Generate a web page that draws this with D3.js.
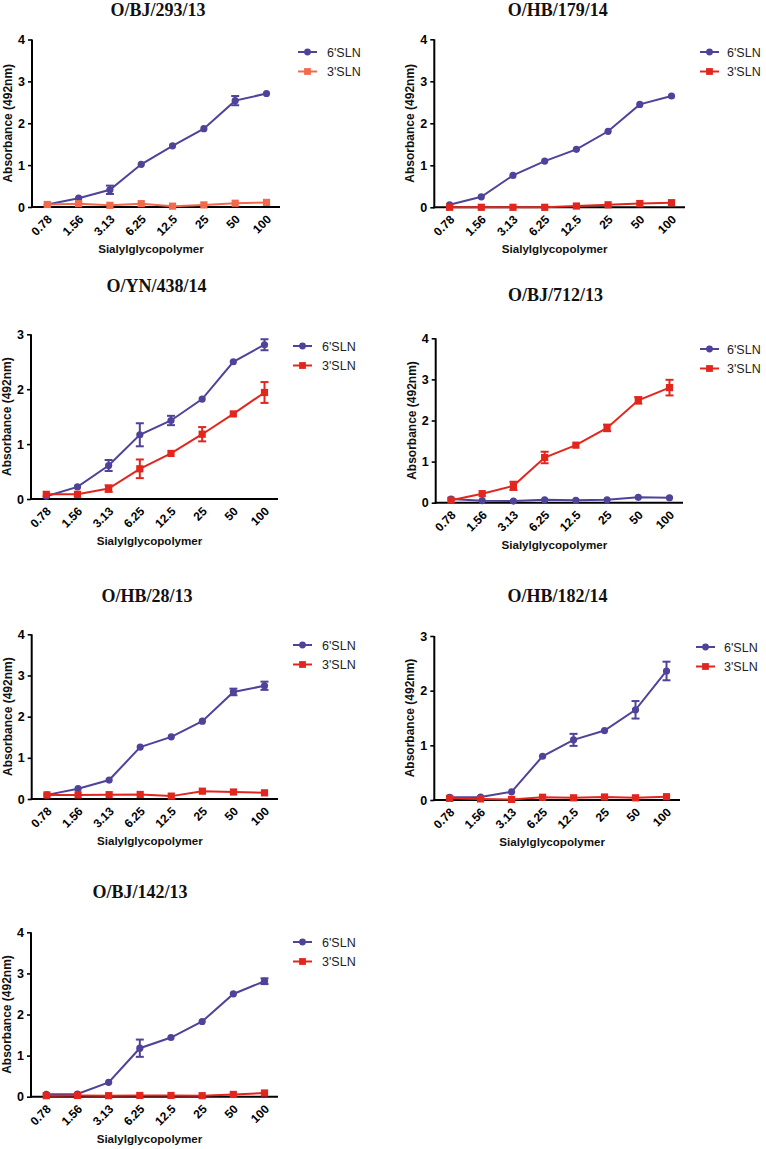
<!DOCTYPE html>
<html><head><meta charset="utf-8">
<script src="https://cdn.jsdelivr.net/npm/d3@7"></script>
<style>body{margin:0;background:#fff}svg{display:block}</style>
</head><body>
<svg id="c" width="766" height="1149"></svg>
<script>
// ---- data ----
const concentrations = ["0.78","1.56","3.13","6.25","12.5","25","50","100"];
const seriesNames = ["6'SLN","3'SLN"];
const titles = ["O/BJ/293/13","O/HB/179/14","O/YN/438/14","O/BJ/712/13","O/HB/28/13","O/HB/182/14","O/BJ/142/13"];
const yMaxes = [4,4,3,4,4,3,4];

const bj293_6 = [0.06,0.21,0.41,1.02,1.46,1.87,2.54,2.71];
const bj293_6err = [0,0,0.10,0,0,0,0.11,0];
const bj293_3 = [0.06,0.08,0.04,0.08,0.02,0.05,0.09,0.11];
const bj293_3err = [0,0,0,0,0,0,0,0];

const hb179_6 = [0.06,0.25,0.76,1.10,1.38,1.81,2.45,2.65];
const hb179_6err = [0,0,0,0,0,0,0,0];
const hb179_3 = [0.0,0.0,0.0,0.0,0.03,0.06,0.09,0.11];
const hb179_3err = [0,0,0,0,0,0,0,0];

const yn438_6 = [0.05,0.22,0.61,1.17,1.43,1.82,2.50,2.81];
const yn438_6err = [0,0,0.10,0.21,0.085,0,0,0.10];
const yn438_3 = [0.085,0.085,0.19,0.55,0.83,1.18,1.55,1.94];
const yn438_3err = [0,0,0.06,0.17,0,0.13,0,0.19];

const bj712_6 = [0.09,0.05,0.04,0.07,0.06,0.07,0.13,0.12];
const bj712_6err = [0,0,0,0,0,0,0,0];
const bj712_3 = [0.06,0.22,0.41,1.10,1.40,1.82,2.49,2.80];
const bj712_3err = [0,0,0.10,0.14,0,0.08,0.08,0.19];

const hb28_6 = [0.10,0.25,0.46,1.26,1.51,1.89,2.60,2.75];
const hb28_6err = [0,0,0,0,0,0,0.08,0.10];
const hb28_3 = [0.10,0.10,0.105,0.11,0.07,0.19,0.17,0.15];
const hb28_3err = [0,0,0,0,0,0,0,0];

const hb182_6 = [0.05,0.055,0.15,0.80,1.10,1.27,1.65,2.36];
const hb182_6err = [0,0,0,0,0.11,0,0.16,0.17];
const hb182_3 = [0.03,0.02,0.01,0.05,0.04,0.055,0.04,0.06];
const hb182_3err = [0,0,0,0,0,0,0,0];

const bj142_6 = [0.06,0.065,0.35,1.18,1.44,1.83,2.50,2.81];
const bj142_6err = [0,0,0,0.21,0,0,0,0.07];
const bj142_3 = [0.025,0.03,0.025,0.03,0.03,0.025,0.055,0.09];
const bj142_3err = [0,0,0,0,0,0,0,0];

const values6 = [bj293_6,hb179_6,yn438_6,bj712_6,hb28_6,hb182_6,bj142_6];
const errs6 = [bj293_6err,hb179_6err,yn438_6err,bj712_6err,hb28_6err,hb182_6err,bj142_6err];
const values3 = [bj293_3,hb179_3,yn438_3,bj712_3,hb28_3,hb182_3,bj142_3];
const errs3 = [bj293_3err,hb179_3err,yn438_3err,bj712_3err,hb28_3err,hb182_3err,bj142_3err];

// ---- layout (positions only) ----
const frames = [
 {x0:32, x1:280, yT:39.5, yB:207, tx:158, ty:15.5, lx:298, lt:327, ly:52, c3:"#F26A4B"},
 {x0:434.3, x1:685, yT:39.3, yB:207.3, tx:557.7, ty:15.5, lx:700, lt:727, ly:52, c3:"#E2261E"},
 {x0:31, x1:278, yT:334.3, yB:499, tx:156.5, ty:291.5, lx:293, lt:322, ly:346, c3:"#E2261E"},
 {x0:435.7, x1:683, yT:338.3, yB:502.7, tx:555.5, ty:301, lx:700, lt:727, ly:349, c3:"#E2261E"},
 {x0:31.7, x1:278, yT:634.3, yB:799, tx:147, ty:601.5, lx:293, lt:322, ly:645, c3:"#E2261E"},
 {x0:434.3, x1:680, yT:636, yB:800, tx:557.5, ty:601.5, lx:696, lt:724, ly:647, c3:"#E2261E"},
 {x0:31, x1:278, yT:932.3, yB:1096.7, tx:140, ty:898, lx:293, lt:322, ly:942, c3:"#E2261E"}
];
const purple = "#4E4399";

const svg = d3.select("#c");

frames.forEach((f,i)=>{
  const g = svg.append("g");
  const x = d3.scalePoint().domain(concentrations).range([f.x0+15.3, f.x1-13.5]);
  const y = d3.scaleLinear().domain([0,yMaxes[i]]).range([f.yB, f.yT]);

  // title
  g.append("text").attr("x",f.tx).attr("y",f.ty).attr("text-anchor","middle")
   .attr("font-family","'Liberation Serif','Times New Roman',serif").attr("font-weight","bold")
   .attr("font-size",18).attr("fill","#111").text(titles[i]);

  // y axis
  const ya = g.append("g").attr("transform",`translate(${f.x0},0)`)
    .call(d3.axisLeft(y).tickValues(d3.range(0,yMaxes[i]+1)).tickFormat(d3.format("d")).tickSize(4).tickPadding(3));
  ya.select(".domain").attr("stroke","#000").attr("stroke-width",2).attr("d",`M0,${f.yT}V${f.yB+1}`);
  ya.selectAll(".tick line").attr("stroke","#000").attr("stroke-width",1.6);
  ya.selectAll(".tick text").attr("font-family","Arial,'Liberation Sans',sans-serif").attr("font-weight","bold").attr("font-size",12.5).attr("fill","#000");

  // x axis
  const xa = g.append("g").attr("transform",`translate(0,${f.yB})`)
    .call(d3.axisBottom(x).tickSize(0).tickPadding(0));
  xa.select(".domain").attr("stroke","#000").attr("stroke-width",2).attr("d",`M${f.x0-1},0H${f.x1}`);
  xa.selectAll(".tick text").attr("font-family","Arial,'Liberation Sans',sans-serif").attr("font-weight","bold").attr("font-size",12).attr("fill","#000")
    .attr("text-anchor","end").attr("dy",0).attr("y",0)
    .attr("transform","translate(5,13) rotate(-45)");

  // axis titles
  g.append("text").attr("transform",`translate(${f.x0-20},${(f.yT+f.yB)/2}) rotate(-90)`)
   .attr("text-anchor","middle").attr("font-family","Arial,'Liberation Sans',sans-serif").attr("font-weight","bold")
   .attr("font-size",12).attr("fill","#111").text("Absorbance (492nm)");
  g.append("text").attr("x",(f.x0+f.x1)/2 - 5).attr("y",f.yB+46)
   .attr("text-anchor","middle").attr("font-family","Arial,'Liberation Sans',sans-serif").attr("font-weight","bold")
   .attr("font-size",11.6).attr("fill","#111").text("Sialylglycopolymer");

  const series = [
    {vals:values6[i], errs:errs6[i], color:purple, shape:"circle"},
    {vals:values3[i], errs:errs3[i], color:f.c3, shape:"square"}
  ];
  series.forEach(s=>{
    const pts = concentrations.map((c,k)=>({c, v:s.vals[k], e:s.errs[k]}));
    const sg = g.append("g");
    sg.append("path").datum(pts).attr("fill","none").attr("stroke",s.color).attr("stroke-width",2)
      .attr("d", d3.line().x(d=>x(d.c)).y(d=>y(d.v)));
    const eb = sg.selectAll("g.eb").data(pts.filter(d=>d.e>0)).join("g").attr("stroke",s.color).attr("stroke-width",2);
    eb.append("line").attr("x1",d=>x(d.c)).attr("x2",d=>x(d.c)).attr("y1",d=>y(d.v-d.e)).attr("y2",d=>y(d.v+d.e));
    eb.append("line").attr("x1",d=>x(d.c)-4).attr("x2",d=>x(d.c)+4).attr("y1",d=>y(d.v-d.e)).attr("y2",d=>y(d.v-d.e));
    eb.append("line").attr("x1",d=>x(d.c)-4).attr("x2",d=>x(d.c)+4).attr("y1",d=>y(d.v+d.e)).attr("y2",d=>y(d.v+d.e));
    if (s.shape==="circle") {
      sg.selectAll("circle").data(pts).join("circle").attr("cx",d=>x(d.c)).attr("cy",d=>y(d.v)).attr("r",3.6).attr("fill",s.color);
    } else {
      sg.selectAll("rect").data(pts).join("rect").attr("x",d=>x(d.c)-3.6).attr("y",d=>y(d.v)-3.6).attr("width",7.2).attr("height",7.2).attr("fill",s.color);
    }
  });

  // legend
  const lg = g.append("g");
  series.forEach((s,k)=>{
    const ly = f.ly + k*19.5;
    lg.append("line").attr("x1",f.lx).attr("x2",f.lx+19).attr("y1",ly).attr("y2",ly).attr("stroke",s.color).attr("stroke-width",2);
    if (s.shape==="circle") lg.append("circle").attr("cx",f.lx+9.5).attr("cy",ly).attr("r",3.4).attr("fill",s.color);
    else lg.append("rect").attr("x",f.lx+9.5-3.4).attr("y",ly-3.4).attr("width",6.8).attr("height",6.8).attr("fill",s.color);
    lg.append("text").attr("x",f.lt).attr("y",ly+4.5).attr("font-family","Arial,'Liberation Sans',sans-serif")
      .attr("font-size",12.5).attr("fill","#222").text(seriesNames[k]);
  });
});
</script>
</body></html>
